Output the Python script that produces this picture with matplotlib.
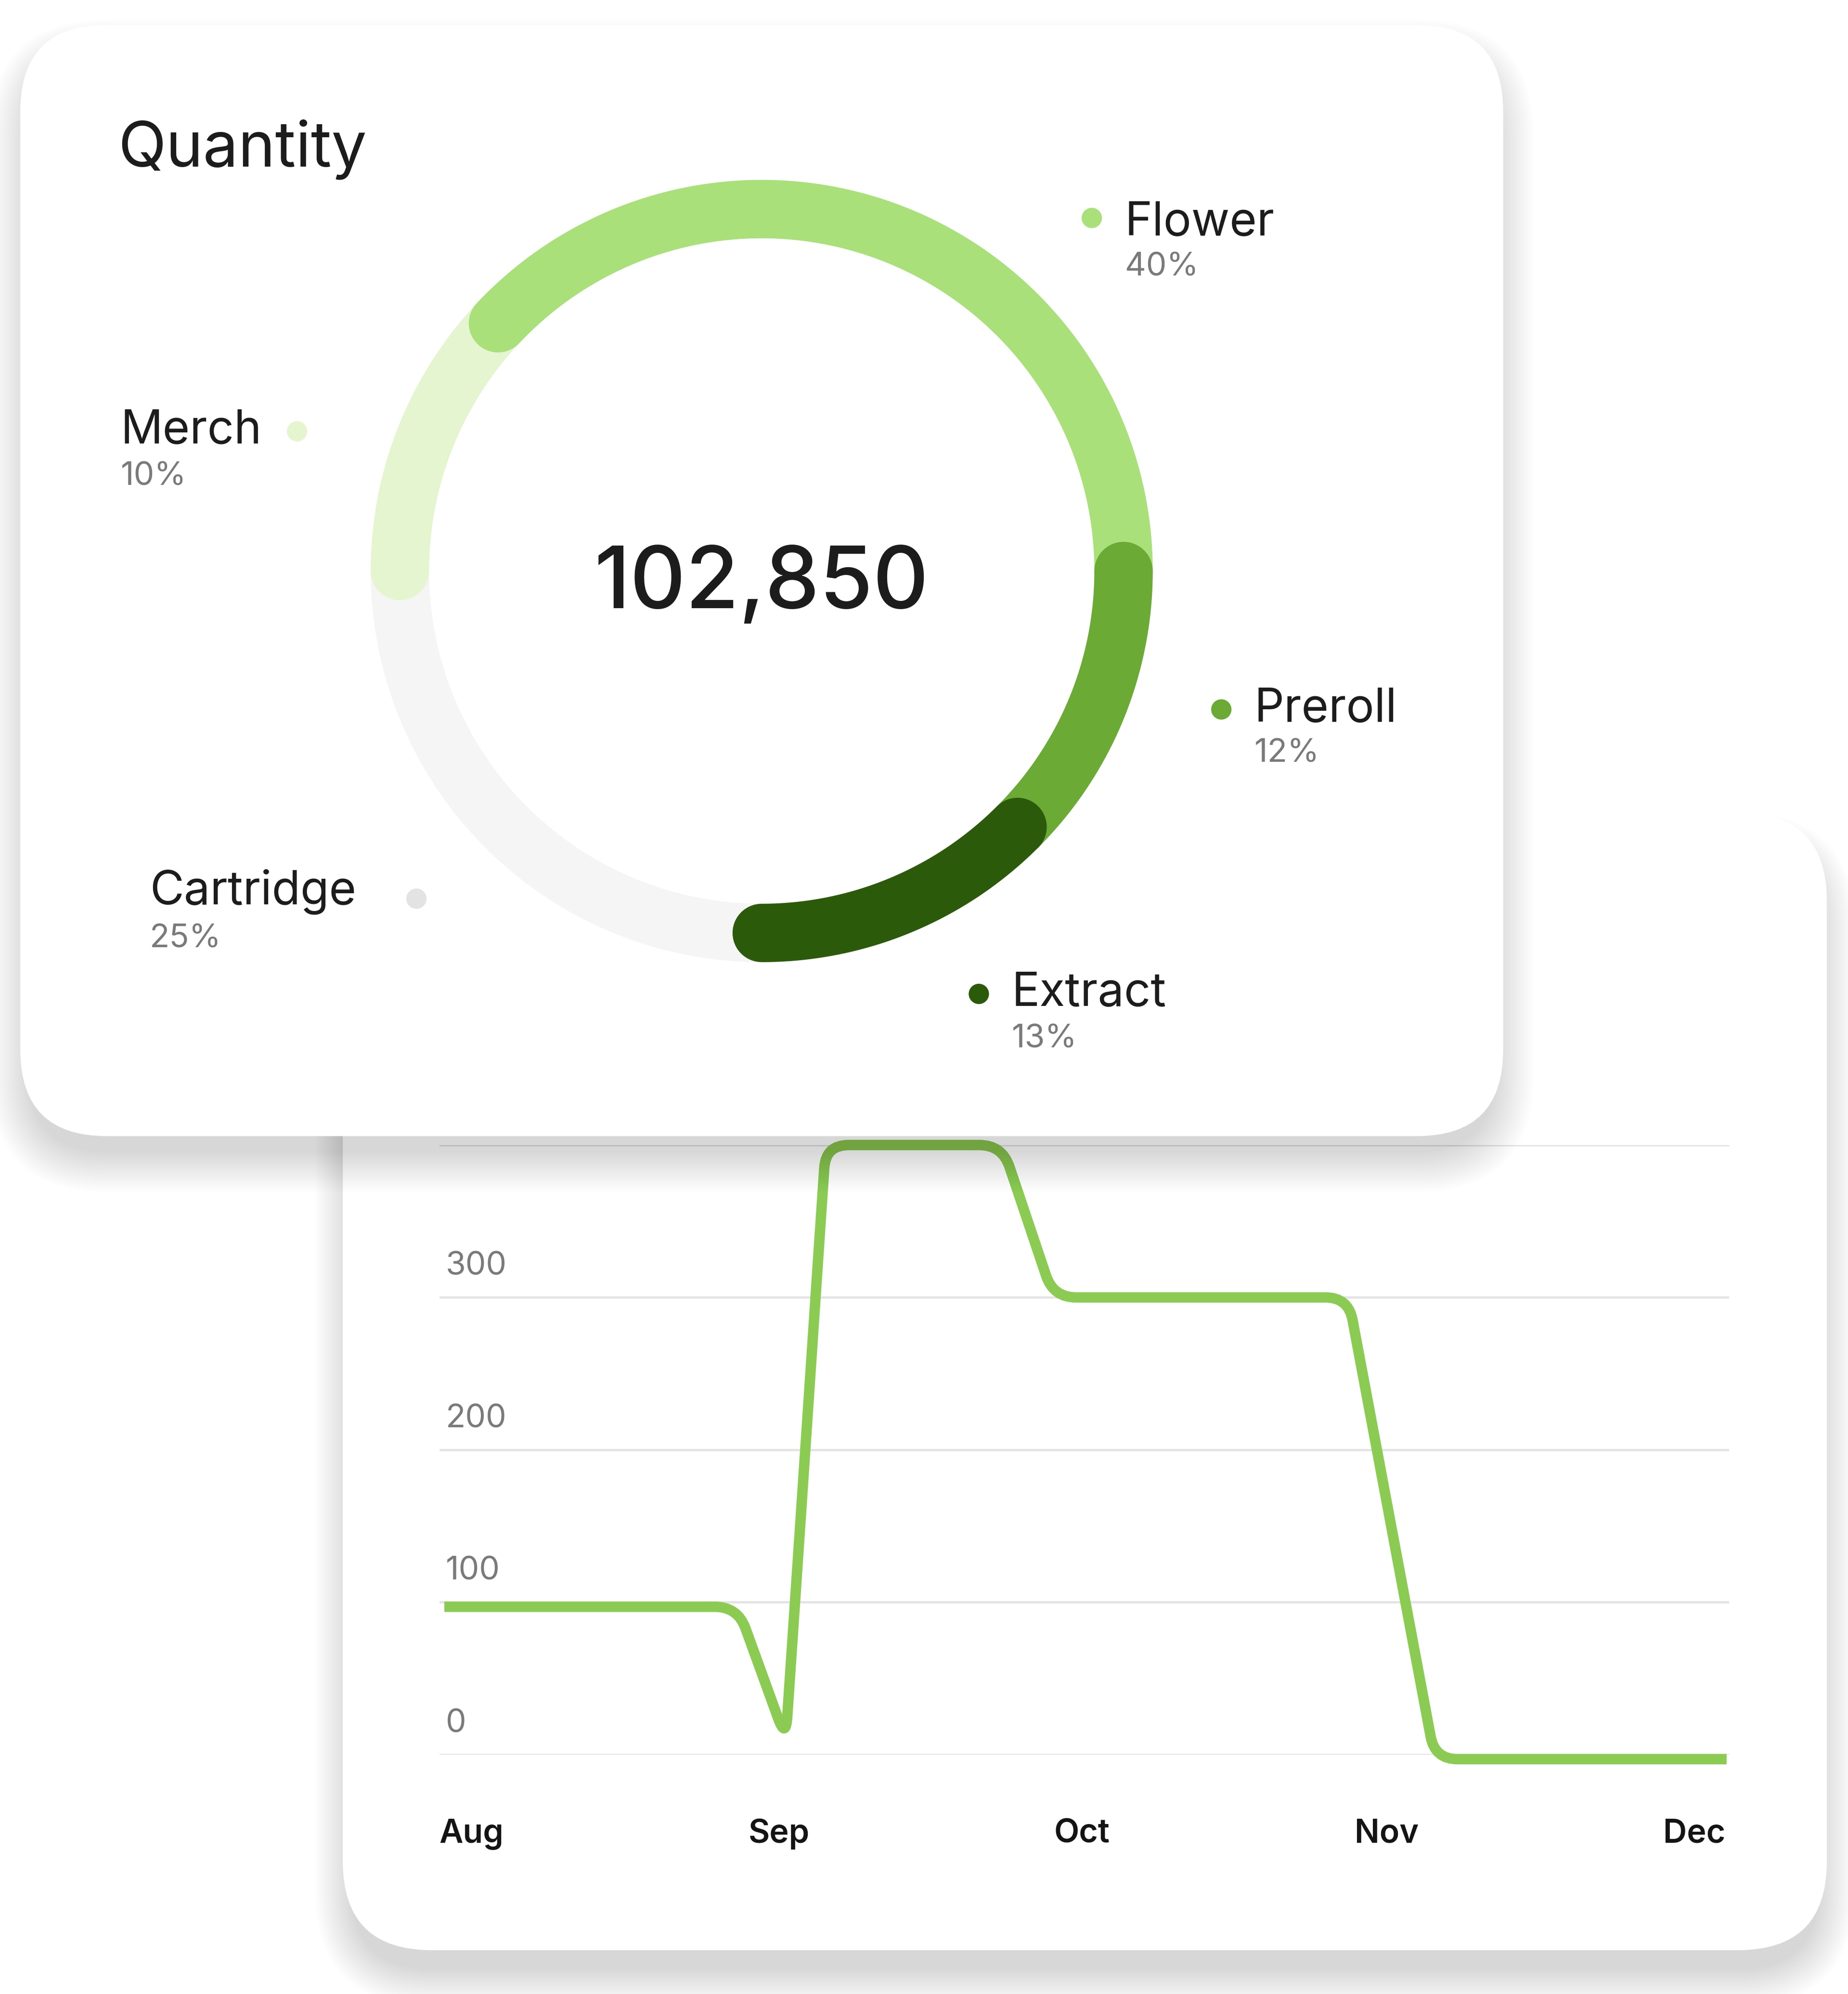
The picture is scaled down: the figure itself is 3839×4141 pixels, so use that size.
import numpy as np
import matplotlib
matplotlib.use('Agg')
import matplotlib.pyplot as plt
from matplotlib.patches import FancyBboxPatch, Circle, PathPatch
from matplotlib.path import Path
from matplotlib.transforms import ScaledTranslation

# --- data -------------------------------------------------------------
# donut segments, clockwise starting at 9 o'clock
segments = ['Merch', 'Flower', 'Preroll', 'Extract', 'Cartridge']
shares = [10, 40, 12, 13, 25]              # printed percentages
ring_spans = [12, 38, 12.5, 12.5, 25]      # arc lengths as drawn in the ring (%)
total_qty = 102850

# line chart
months = ['Aug', 'Sep', 'Oct', 'Nov', 'Dec']
line_x = [0.0, 0.915, 1.065, 1.19, 1.74, 1.90, 2.82, 3.09, 4.0]
line_y = [97, 97, 10, 400, 400, 300, 300, -3, -3]
y_ticks = [0, 100, 200, 300, 400]

# --- style / layout ---------------------------------------------------
ring_colors = ['#e4f5d0', '#a9e07a', '#6aaa35', '#2c5a0b', '#f5f5f5']
dot_colors = ['#e4f5d0', '#a9e07a', '#6aaa35', '#2c5a0b', '#e3e3e3']
line_color = '#8bcb53'
dark = '#1c1c1c'
grey = '#7a7a7a'

# legend layout in reference pixels: dot x, dot y, text x, name baseline, pct baseline
legend_pos = {
    'Flower': (860, 172, 886, 185, 217),
    'Merch': (234, 340, 95, 349, 382),
    'Preroll': (962, 559, 988, 568, 600),
    'Extract': (771, 783, 797, 792, 825),
    'Cartridge': (328, 708, 118, 712, 746),
}

W, H = 1456, 1570.5          # reference pixel grid, 1 px = 0.01 inch
DPI = 3840 / 14.56
PT = 0.72                    # points per reference pixel

plt.rcParams['font.family'] = ['Inter', 'DejaVu Sans']

fig = plt.figure(figsize=(W / 100, H / 100), dpi=DPI, facecolor='white')


def px_axes(z):
    ax = fig.add_axes([0, 0, 1, 1], zorder=z)
    ax.set_xlim(0, W)
    ax.set_ylim(H, 0)
    ax.axis('off')
    return ax


def card(ax, x0, y0, x1, y1, r=68, dy=20, blur=24, strength=0.18, n=20):
    """White rounded card with a soft drop shadow"""
    w, h = x1 - x0, y1 - y0
    for g in np.linspace(blur, -0.3 * blur, n):
        ax.add_patch(FancyBboxPatch((x0 - g, y0 + dy - g), w + 2 * g, h + 2 * g,
                                    boxstyle=f'round,pad=0,rounding_size={r + g}',
                                    fc='black', ec='none', alpha=strength / n))
    ax.add_patch(FancyBboxPatch((x0, y0), w, h,
                                boxstyle=f'round,pad=0,rounding_size={r}',
                                fc='white', ec='none'))


# bottom card (line chart)
bg = px_axes(0)
card(bg, 270, 640, 1439, 1536, r=70, dy=22, blur=22)

# line chart axes
gx0, gx1 = 346, 1362
gy_top, gy_bot = 902, 1382
lc = fig.add_axes([gx0 / W, 1 - gy_bot / H, (gx1 - gx0) / W, (gy_bot - gy_top) / H], zorder=1)
lc.patch.set_alpha(0)
px_per_month = (1360 - 350) / 4
lc.set_xlim(-(350 - gx0) / px_per_month, 4 + (gx1 - 1360) / px_per_month)
lc.set_ylim(0, 400)
for s in lc.spines.values():
    s.set_visible(False)

lc.set_yticks(y_ticks, [str(v) for v in y_ticks])
lc.grid(axis='y', color='#e4e4e4', lw=1.3)
lc.set_axisbelow(True)
lc.tick_params(axis='y', length=0, pad=0, labelsize=18.5, labelcolor=grey)
for lbl in lc.get_yticklabels():
    lbl.set_ha('left')
    lbl.set_va('baseline')
    lbl.set_transform(lbl.get_transform() + ScaledTranslation(0.05, 0.18, fig.dpi_scale_trans))

lc.set_xticks(range(len(months)), months)
lc.tick_params(axis='x', length=0, pad=36, labelsize=18.6, labelcolor='#141414')
for lbl in lc.get_xticklabels():
    lbl.set_ha('left')
    lbl.set_fontweight('semibold')

# polyline with rounded corners, built in display space from the data points
pts = lc.transData.transform(np.column_stack([line_x, line_y]))
verts, codes = [pts[0]], [Path.MOVETO]
radius = 18 * DPI / 100
for i in range(1, len(pts) - 1):
    p0, p1, p2 = pts[i - 1], pts[i], pts[i + 1]
    v1, v2 = p0 - p1, p2 - p1
    l1, l2 = np.hypot(*v1), np.hypot(*v2)
    r = min(radius, 0.45 * l1, 0.45 * l2)
    verts += [p1 + v1 / l1 * r, p1, p1 + v2 / l2 * r]
    codes += [Path.LINETO, Path.CURVE3, Path.CURVE3]
verts.append(pts[-1])
codes.append(Path.LINETO)
path = Path(lc.transData.inverted().transform(np.array(verts)), codes)
lc.add_patch(PathPatch(path, fill=False, ec=line_color, lw=8.2 * PT,
                       capstyle='butt', joinstyle='round', clip_on=False, zorder=3))

# top card (donut)
ov = px_axes(2)
card(ov, 16, 20, 1184, 895, r=68)

ov.text(93, 131, 'Quantity', fontsize=35.6, color=dark, ha='left', va='baseline')

cx, cy, r_mid, ring_w = 600, 450, 285, 46
bounds = 180 - 3.6 * np.concatenate([[0], np.cumsum(ring_spans)])
for i in [4, 0, 1, 2, 3]:
    th = np.radians(np.linspace(bounds[i], bounds[i + 1], 300))
    ov.plot(cx + r_mid * np.cos(th), cy - r_mid * np.sin(th), color=ring_colors[i],
            lw=ring_w * PT, solid_capstyle='round', zorder=3)

ov.text(cx, 479, f'{total_qty:,}', fontsize=49, color=dark, ha='center',
        va='baseline', fontweight='medium', zorder=4)

for name, share, dc in zip(segments, shares, dot_colors):
    dx, dy, tx, nb, pb = legend_pos[name]
    ov.add_patch(Circle((dx, dy), 8, fc=dc, ec='none', zorder=4))
    ov.text(tx, nb, name, fontsize=26.5, color=dark, ha='left', va='baseline', zorder=4)
    ov.text(tx, pb, f'{share}%', fontsize=18.5, color=grey, ha='left', va='baseline', zorder=4)

# month labels spread edge to edge (space-between), like the original layout
fig.canvas.draw()
labels = lc.get_xticklabels()
widths = [l.get_window_extent().width for l in labels]
left_px = gx0 / 100 * DPI
right_px = 1359 / 100 * DPI
gap = (right_px - left_px - sum(widths)) / (len(labels) - 1)
pos = left_px
for lbl, w in zip(labels, widths):
    cur = lbl.get_window_extent().x0
    lbl.set_transform(lbl.get_transform() + ScaledTranslation((pos - cur) / DPI, 0, fig.dpi_scale_trans))
    pos += w + gap

fig.savefig('out.png', dpi=DPI, facecolor='white')
